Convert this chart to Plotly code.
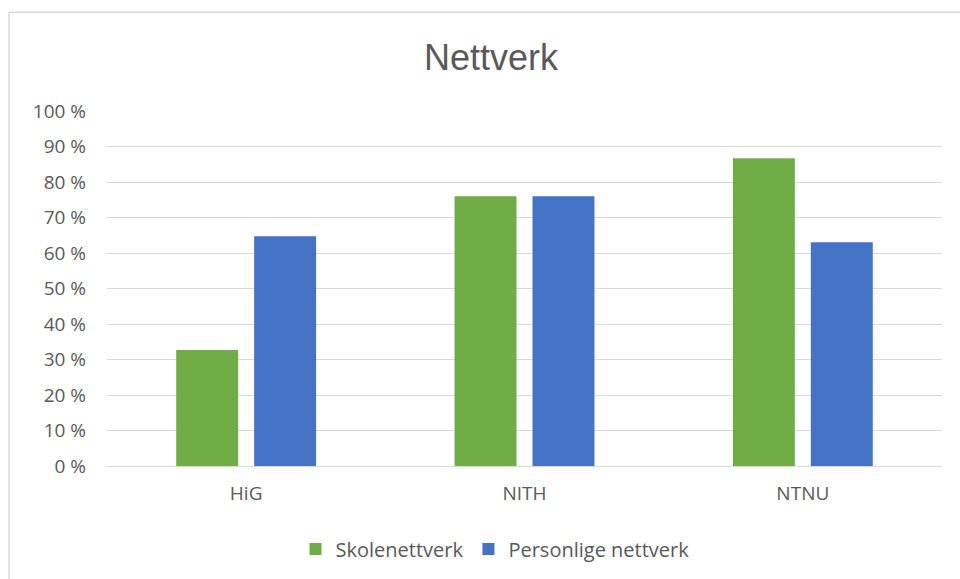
import plotly.graph_objects as go

categories = ["HiG", "NITH", "NTNU"]
skolenettverk = [32.7, 76.0, 86.7]
personlige = [64.7, 76.0, 63.0]
series_names = ["Skolenettverk", "Personlige nettverk"]
y_ticks = [0, 10, 20, 30, 40, 50, 60, 70, 80, 90, 100]
y_labels = [f"{v} %" for v in y_ticks]

W, H = 960, 579
L, R, T, B = 107, 18, 111, 112
pw = W - L - R
ph = H - T - B

fig = go.Figure()
fig.add_trace(go.Bar(x=categories, y=skolenettverk, name=series_names[0],
                     marker=dict(color="#70ad47", line=dict(width=0))))
fig.add_trace(go.Bar(x=categories, y=personlige, name=series_names[1],
                     marker=dict(color="#4472c4", line=dict(width=0))))

font_fam = "Open Sans, Liberation Sans, sans-serif"
fig.update_layout(
    width=W, height=H,
    margin=dict(l=L, r=R, t=T, b=B),
    paper_bgcolor="white", plot_bgcolor="white",
    barmode="group", bargap=0.44, bargroupgap=0.205,
    title=dict(text="Nettverk", x=(491) / W, xanchor="center", y=1 - 57 / H, yanchor="middle",
               font=dict(family="Liberation Sans Narrow, Liberation Sans, sans-serif", size=36, color="#595959")),
    font=dict(family=font_fam, color="#595959", size=19),
    showlegend=True,
    legend=dict(orientation="h", x=0.5 + (495 - (L + pw / 2)) / pw, xanchor="center",
                y=-(549 - (T + ph)) / ph, yanchor="middle",
                font=dict(size=20, color="#595959"), itemwidth=30, traceorder="normal"),
    xaxis=dict(showgrid=False, showline=False, ticks="", ticklabelstandoff=14,
               tickfont=dict(size=19, color="#595959")),
    yaxis=dict(range=[0, 100], tickvals=y_ticks, ticktext=y_labels, showgrid=True,
               gridcolor="#d9d9d9", gridwidth=1, zeroline=True, zerolinecolor="#d9d9d9",
               zerolinewidth=1, showline=False, ticks="", ticklabelstandoff=20,
               tickfont=dict(size=19, color="#595959")),
)

# chart border (light gray frame)
fig.add_shape(type="rect", xref="paper", yref="paper",
              x0=(9 - L) / pw, x1=(W + 5 - L) / pw,
              y0=-(H + 5 - T - ph) / ph, y1=1 + (T - 12) / ph,
              line=dict(color="#d9d9d9", width=1.5), fillcolor="rgba(0,0,0,0)", layer="below")

fig.write_html("out.html")
